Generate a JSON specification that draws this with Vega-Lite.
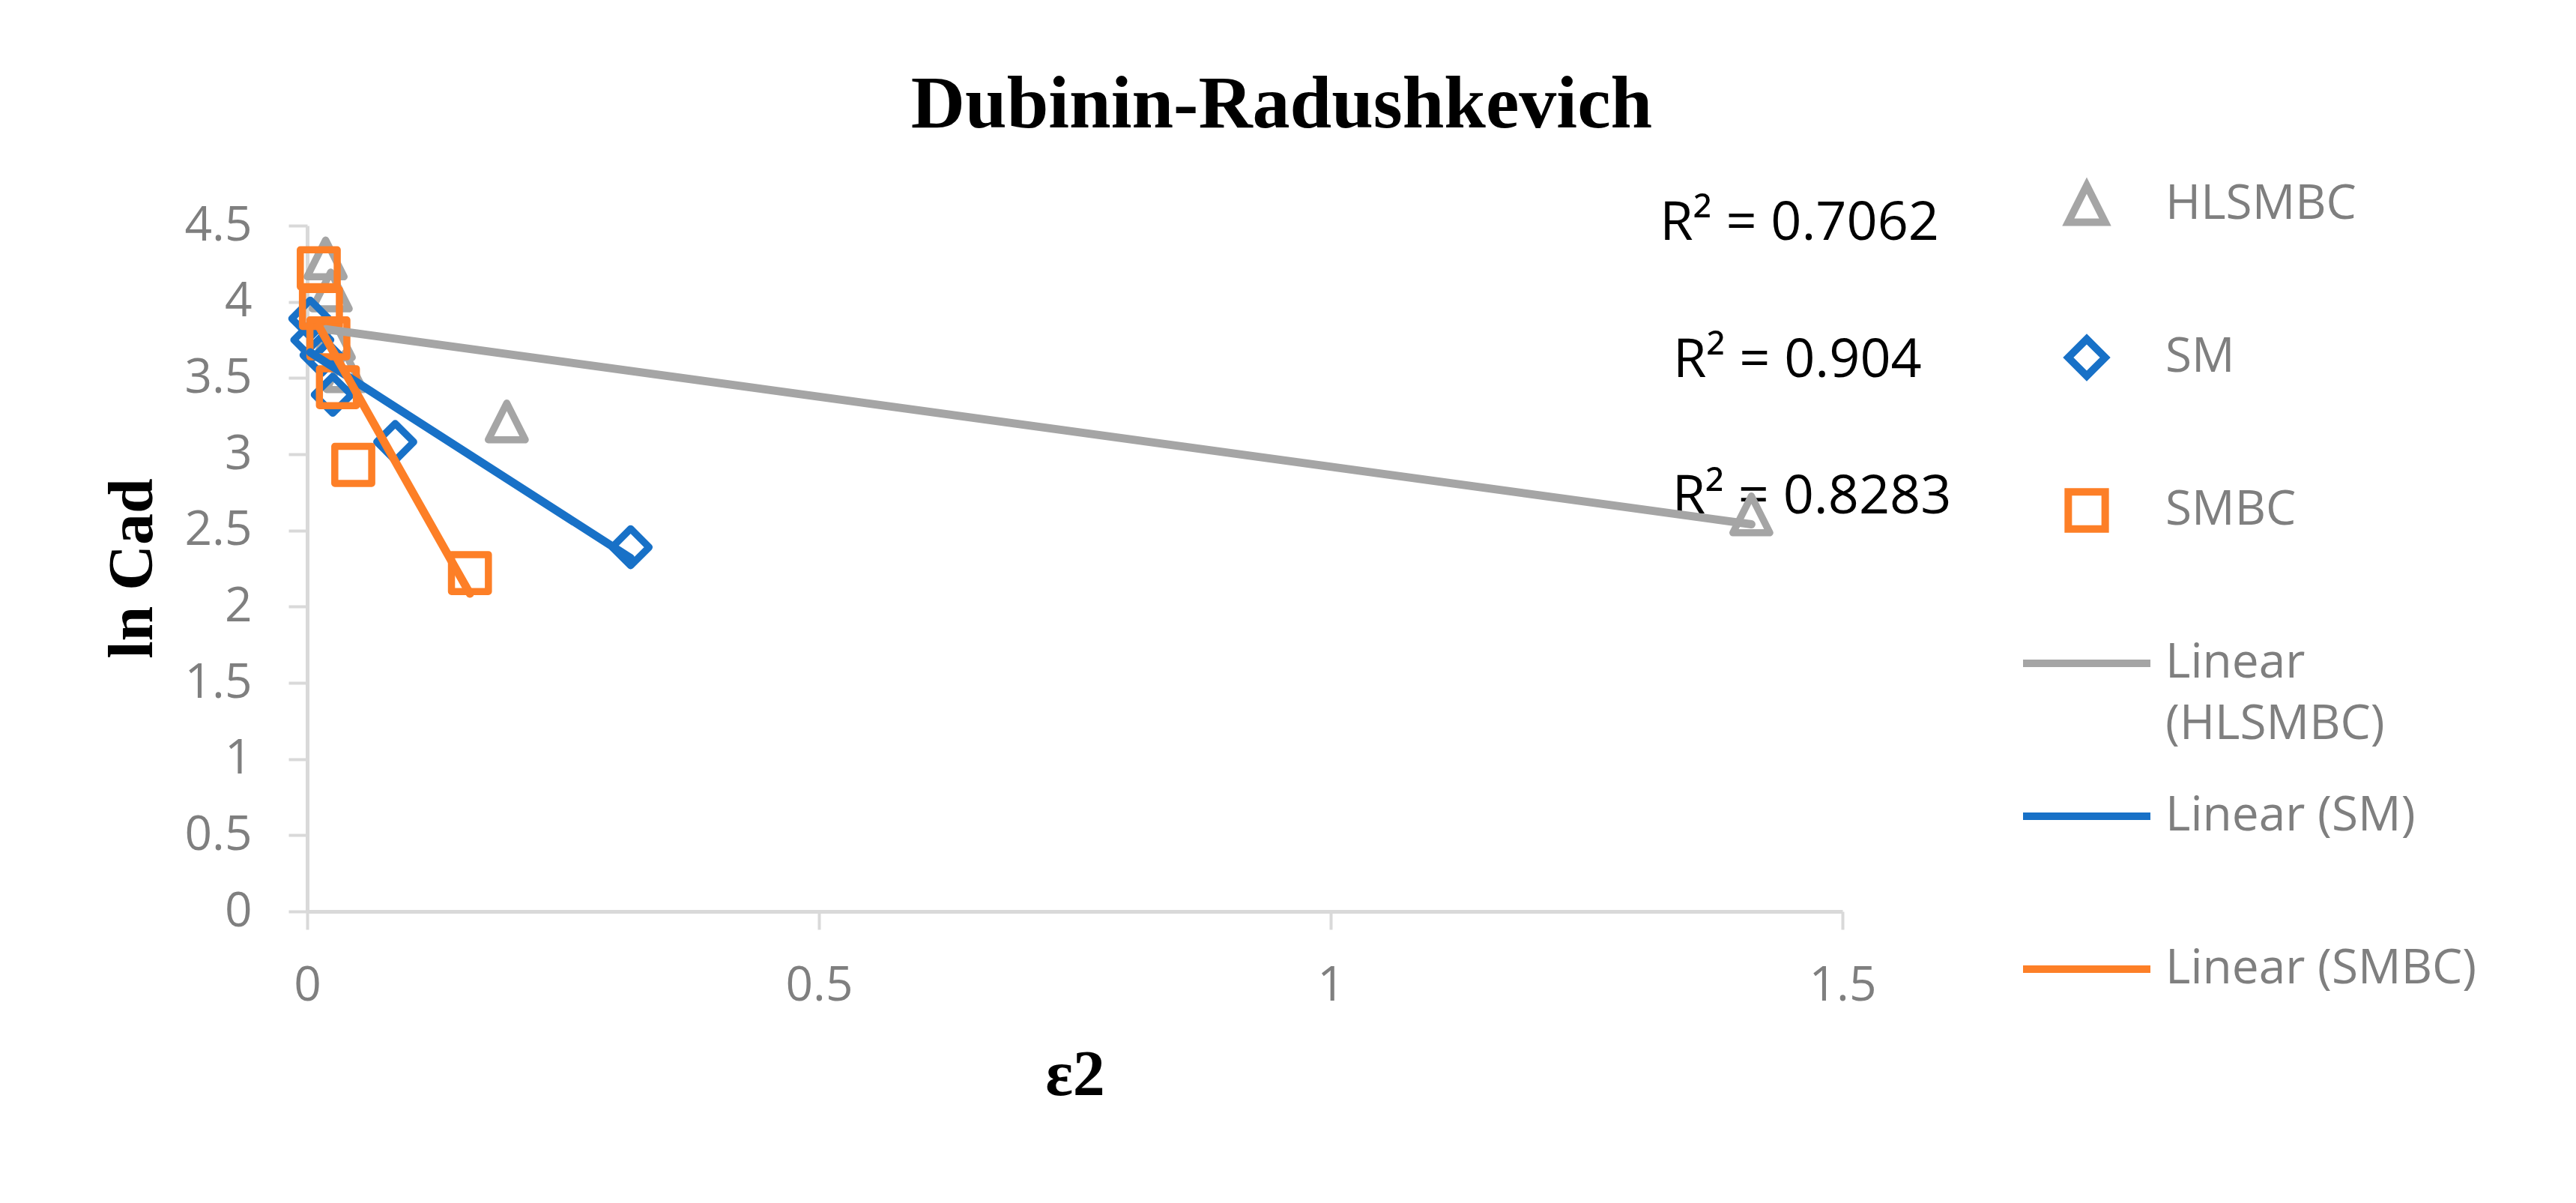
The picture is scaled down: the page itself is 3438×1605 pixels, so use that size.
{
  "$schema": "https://vega.github.io/schema/vega-lite/v6.json",
  "width": 2049,
  "height": 915,
  "autosize": {"type": "none"},
  "padding": {"left": 410, "top": 301, "right": 979, "bottom": 389},
  "background": "white",
  "config": {
    "view": {"stroke": null},
    "style": {"guide-label": {"lineHeight": 82}}
  },
  "title": {
    "text": "Dubinin-Radushkevich",
    "font": "Liberation Serif",
    "fontSize": 100,
    "fontWeight": "bold",
    "color": "black",
    "anchor": "middle",
    "frame": "group",
    "dx": 276,
    "dy": 97,
    "baseline": "alphabetic",
    "offset": 10
  },
  "datasets": {
    "points": [
      {"series": "HLSMBC", "trend": "Linear (HLSMBC)", "x": 0.018, "y": 4.28},
      {"series": "HLSMBC", "trend": "Linear (HLSMBC)", "x": 0.023, "y": 4.07},
      {"series": "HLSMBC", "trend": "Linear (HLSMBC)", "x": 0.026, "y": 3.75},
      {"series": "HLSMBC", "trend": "Linear (HLSMBC)", "x": 0.037, "y": 3.54},
      {"series": "HLSMBC", "trend": "Linear (HLSMBC)", "x": 0.195, "y": 3.21},
      {"series": "HLSMBC", "trend": "Linear (HLSMBC)", "x": 1.411, "y": 2.6},
      {"series": "SM", "trend": "Linear (SM)", "x": 0.003, "y": 3.89},
      {"series": "SM", "trend": "Linear (SM)", "x": 0.005, "y": 3.75},
      {"series": "SM", "trend": "Linear (SM)", "x": 0.014, "y": 3.65},
      {"series": "SM", "trend": "Linear (SM)", "x": 0.025, "y": 3.39},
      {"series": "SM", "trend": "Linear (SM)", "x": 0.086, "y": 3.08},
      {"series": "SM", "trend": "Linear (SM)", "x": 0.316, "y": 2.39},
      {"series": "SMBC", "trend": "Linear (SMBC)", "x": 0.0113, "y": 4.22},
      {"series": "SMBC", "trend": "Linear (SMBC)", "x": 0.0134, "y": 3.96},
      {"series": "SMBC", "trend": "Linear (SMBC)", "x": 0.0207, "y": 3.76},
      {"series": "SMBC", "trend": "Linear (SMBC)", "x": 0.03, "y": 3.44},
      {"series": "SMBC", "trend": "Linear (SMBC)", "x": 0.045, "y": 2.93},
      {"series": "SMBC", "trend": "Linear (SMBC)", "x": 0.159, "y": 2.22}
    ],
    "labels": [
      {"label": "R² = 0.7062", "x": 1.458, "y": 4.407},
      {"label": "R² = 0.904", "x": 1.456, "y": 3.507},
      {"label": "R² = 0.8283", "x": 1.47, "y": 2.612}
    ]
  },
  "layer": [
    {
      "data": {"name": "labels"},
      "mark": {"type": "text", "font": "Open Sans", "fontSize": 72, "color": "black", "align": "center", "baseline": "alphabetic"},
      "encoding": {
        "x": {"field": "x", "type": "quantitative"},
        "y": {"field": "y", "type": "quantitative"},
        "text": {"field": "label"}
      }
    },
    {
      "data": {"name": "points"},
      "mark": {"type": "point", "filled": false, "size": 28900, "strokeWidth": 9.5, "strokeJoin": "round", "opacity": 1},
      "encoding": {
        "x": {
          "field": "x", "type": "quantitative",
          "scale": {"domain": [0, 1.5], "nice": false, "zero": false},
          "axis": {
            "values": [0, 0.5, 1, 1.5], "format": "~g", "grid": false,
            "title": "ε2", "titleFont": "Liberation Serif", "titleFontSize": 86, "titleFontWeight": "bold", "titleColor": "black",
            "titleX": 1024.5, "titleY": 244, "titleBaseline": "alphabetic", "titleAlign": "center",
            "labelFont": "Open Sans", "labelFontSize": 64, "labelColor": "#7F7F7F", "labelPadding": 43, "labelFlush": false,
            "tickSize": 24, "tickWidth": 4, "tickColor": "#D9D9D9", "domainColor": "#D9D9D9", "domainWidth": 5
          }
        },
        "y": {
          "field": "y", "type": "quantitative",
          "scale": {"domain": [0, 4.5], "nice": false},
          "axis": {
            "values": [0, 0.5, 1, 1.5, 2, 2.5, 3, 3.5, 4, 4.5], "format": "~g", "grid": false,
            "title": "ln Cad", "titleFont": "Liberation Serif", "titleFontSize": 84, "titleFontWeight": "bold", "titleColor": "black",
            "titleAngle": -90, "titleX": -208, "titleY": 457, "titleBaseline": "alphabetic", "titleAlign": "center",
            "labelFont": "Open Sans", "labelFontSize": 64, "labelColor": "#7F7F7F", "labelPadding": 49, "labelFlush": false,
            "tickSize": 25, "tickWidth": 4, "tickColor": "#D9D9D9", "domainColor": "#D9D9D9", "domainWidth": 5
          }
        },
        "color": {
          "field": "series", "type": "nominal",
          "scale": {
            "domain": ["HLSMBC", "SM", "SMBC", "Linear (HLSMBC)", "Linear (SM)", "Linear (SMBC)"],
            "range": ["#A5A5A5", "#1871C7", "#FD7F27", "#A5A5A5", "#1871C7", "#FD7F27"]
          },
          "legend": {
            "title": null, "orient": "none", "legendX": 2285, "legendY": -118, "direction": "vertical",
            "symbolSize": 28900, "symbolStrokeWidth": 10,
            "labelFont": "Open Sans", "labelFontSize": 64, "labelColor": "#7F7F7F", "labelOffset": 15, "labelLimit": 700,
            "rowPadding": 0, "gridAlign": "all", "padding": 0,
            "labelExpr": "datum.label == 'Linear (HLSMBC)' ? ['Linear', '(HLSMBC)'] : datum.label"
          }
        },
        "shape": {
          "field": "series", "type": "nominal",
          "scale": {
            "domain": ["HLSMBC", "SM", "SMBC", "Linear (HLSMBC)", "Linear (SM)", "Linear (SMBC)"],
            "range": ["M0,-0.3L0.29,0.276L-0.29,0.276Z", "M0,-0.29L0.29,0L0,0.29L-0.29,0Z", "M-0.29,-0.29L0.29,-0.29L0.29,0.29L-0.29,0.29Z", "stroke", "stroke", "stroke"]
          },
          "legend": {
            "title": null, "orient": "none", "legendX": 2285, "legendY": -118, "direction": "vertical",
            "symbolSize": 28900, "symbolStrokeWidth": 10,
            "labelFont": "Open Sans", "labelFontSize": 64, "labelColor": "#7F7F7F", "labelOffset": 15, "labelLimit": 700,
            "rowPadding": 0, "gridAlign": "all", "padding": 0,
            "labelExpr": "datum.label == 'Linear (HLSMBC)' ? ['Linear', '(HLSMBC)'] : datum.label"
          }
        }
      }
    },
    {
      "data": {"name": "points"},
      "transform": [{"regression": "y", "on": "x", "groupby": ["trend"], "method": "linear"}],
      "mark": {"type": "line", "strokeWidth": 11, "strokeCap": "round"},
      "encoding": {
        "x": {"field": "x", "type": "quantitative"},
        "y": {"field": "y", "type": "quantitative"},
        "color": {
          "field": "trend", "type": "nominal",
          "legend": {
            "title": null, "orient": "none", "legendX": 2285, "legendY": -118, "direction": "vertical",
            "symbolSize": 28900, "symbolStrokeWidth": 10,
            "labelFont": "Open Sans", "labelFontSize": 64, "labelColor": "#7F7F7F", "labelOffset": 15, "labelLimit": 700,
            "rowPadding": 0, "gridAlign": "all", "padding": 0,
            "labelExpr": "datum.label == 'Linear (HLSMBC)' ? ['Linear', '(HLSMBC)'] : datum.label"
          }
        }
      }
    }
  ]
}
